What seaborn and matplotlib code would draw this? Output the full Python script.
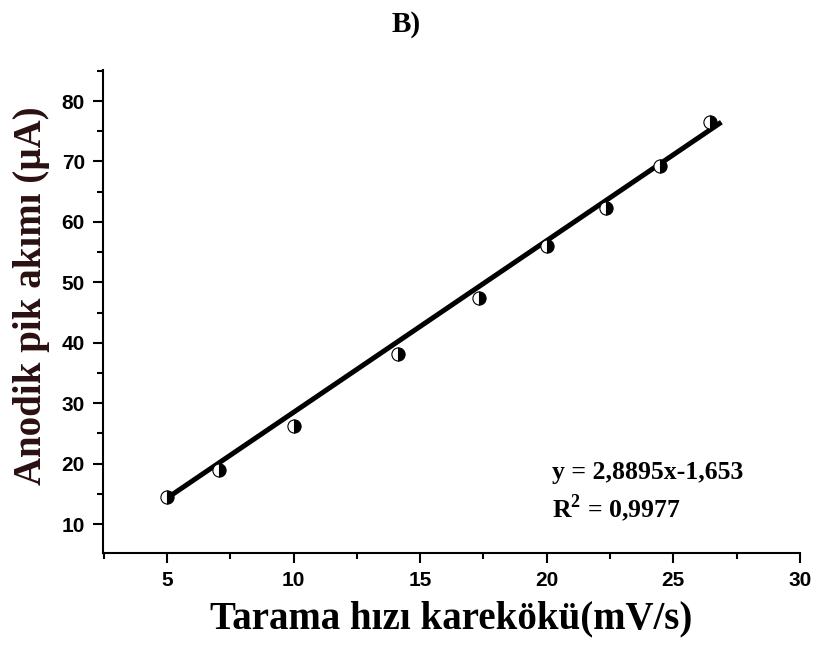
import matplotlib
matplotlib.use("Agg")
import matplotlib.pyplot as plt
import seaborn as sns
import numpy as np
import pandas as pd
from matplotlib.ticker import MultipleLocator

# Data
sqrt_scan_rate = [5.0, 7.07, 10.0, 14.14, 17.32, 20.0, 22.36, 24.49, 26.46]
peak_current = [14.5, 18.9, 26.2, 38.1, 47.4, 56.0, 62.3, 69.2, 76.6]
# Fitted line end points as drawn in the figure
fit_x = [5.0, 26.9]
fit_y = [14.3, 76.5]
title_text = "B)"
x_label = "Tarama hızı karekökü(mV/s)"
y_label = "Anodik pik akımı (µA)"
eq_line1 = "y = 2,8895x-1,653"
eq_line2 = r"R$^{\mathbf{2}}$ = 0,9977"

df = pd.DataFrame({"x": sqrt_scan_rate, "y": peak_current})
df_fit = pd.DataFrame({"x": fit_x, "y": fit_y})

sns.set_style("ticks")
plt.rcParams["font.family"] = ["Liberation Sans", "DejaVu Sans"]
plt.rcParams["mathtext.fontset"] = "custom"
plt.rcParams["mathtext.rm"] = "Liberation Serif:bold"
plt.rcParams["mathtext.bf"] = "Liberation Serif:bold"
plt.rcParams["text.color"] = "black"
plt.rcParams["axes.labelcolor"] = "black"

fig = plt.figure(figsize=(8.17, 6.5), dpi=100)
ax = fig.add_axes([0.126, 0.149, 0.853, 0.743])

sns.lineplot(data=df_fit, x="x", y="y", ax=ax, color="black", lw=3.6,
             solid_capstyle="butt", zorder=2)
sns.lineplot(data=df, x="x", y="y", ax=ax, linestyle="", marker="o",
             markersize=9.5, fillstyle="right", markerfacecolor="black",
             markerfacecoloralt="white", markeredgecolor="black",
             markeredgewidth=0.8, zorder=3)

ax.set_xlim(2.47, 30)
ax.set_ylim(5.2, 85.1)
ax.xaxis.set_major_locator(MultipleLocator(5))
ax.xaxis.set_minor_locator(MultipleLocator(2.5))
ax.yaxis.set_major_locator(MultipleLocator(10))
ax.yaxis.set_minor_locator(MultipleLocator(5))
ax.tick_params(which="major", length=7, width=1.5, direction="out",
               labelsize=15, pad=6, colors="black")
ax.tick_params(which="minor", length=4, width=1.5, direction="out",
               colors="black")
for lab in ax.get_xticklabels() + ax.get_yticklabels():
    lab.set_fontweight("bold")

for s in ["top", "right"]:
    ax.spines[s].set_visible(False)
for s in ["left", "bottom"]:
    ax.spines[s].set_linewidth(1.5)
    ax.spines[s].set_color("black")

ax.set_xlabel(x_label, family=["Liberation Serif", "DejaVu Serif"],
              fontweight="bold", fontsize=28, labelpad=7, color="black")
ax.set_ylabel(y_label, family=["Liberation Serif", "DejaVu Serif"],
              fontweight="bold", fontsize=28, color="#2a1010")
ax.yaxis.set_label_coords(-0.076, 0.534)

fig.text(0.497, 0.962, title_text, family=["Liberation Serif"],
         fontweight="bold", fontsize=21, ha="center", va="center",
         color="black")

ax.text(0.645, 0.168, eq_line1, transform=ax.transAxes,
        family=["Liberation Serif"], fontweight="bold", fontsize=18.5,
        ha="left", va="center", color="black")
ax.text(0.645, 0.093, eq_line2, transform=ax.transAxes,
        family=["Liberation Serif"], fontweight="bold", fontsize=18.5,
        ha="left", va="center", color="black")

fig.savefig("out.png", dpi=100, facecolor="white")
